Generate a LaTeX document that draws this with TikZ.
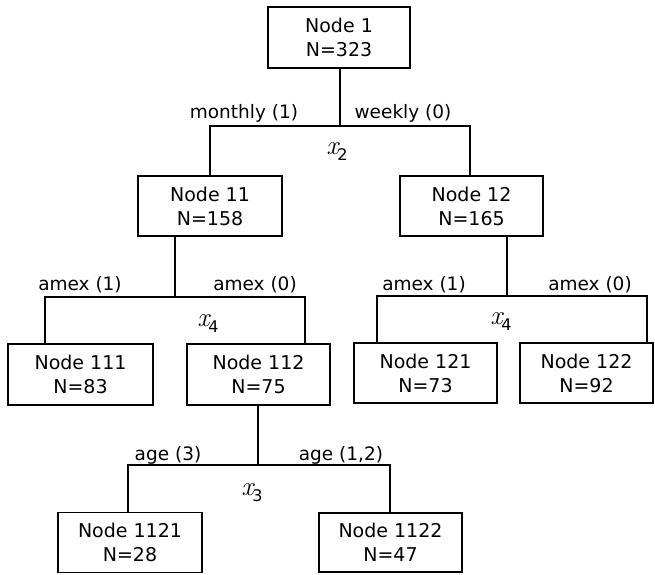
\documentclass[tikz,border=0pt]{standalone}
\usepackage{fontspec}
\newfontfamily\boxfont{DejaVu Sans}
\newcommand\splitvar[1]{{\fontsize{27}{28}\selectfont\itshape x}\kern-1pt\raisebox{-6pt}{\boxfont\fontsize{16}{17}\selectfont #1}}
\begin{document}
\begin{tikzpicture}[x=1pt,y=-1pt,
  treebox/.style={draw=black,line width=1.1pt,inner sep=0pt,align=center,
    font=\boxfont\fontsize{19}{24}\selectfont},
  lbl/.style={font=\boxfont\fontsize{18.5}{20}\selectfont,anchor=base,inner sep=0pt},
  var/.style={inner sep=0pt},
  conn/.style={line width=1.1pt,black}]
\useasboundingbox (0,0) rectangle (655,574);
% nodes
\node[treebox,minimum width=142pt,minimum height=61pt] (n1) at (339,37.5) {Node 1\\N=323};
\node[treebox,minimum width=144pt,minimum height=60pt] (n11) at (210,206) {Node 11\\N=158};
\node[treebox,minimum width=143pt,minimum height=60pt] (n12) at (471.5,206) {Node 12\\N=165};
\node[treebox,minimum width=145pt,minimum height=61pt] (n111) at (80.5,374.5) {Node 111\\N=83};
\node[treebox,minimum width=143pt,minimum height=61pt] (n112) at (258.5,374.5) {Node 112\\N=75};
\node[treebox,minimum width=143pt,minimum height=60pt] (n121) at (425.5,373) {Node 121\\N=73};
\node[treebox,minimum width=133pt,minimum height=60pt] (n122) at (586.5,373) {Node 122\\N=92};
\node[treebox,minimum width=144pt,minimum height=60pt] (n1121) at (130,542.5) {Node 1121\\N=28};
\node[treebox,minimum width=143pt,minimum height=59pt] (n1122) at (390.5,542.5) {Node 1122\\N=47};
% junction coordinates
\coordinate (b1) at (340,126);
\coordinate (l1) at (210,126);
\coordinate (r1) at (470,126);
\coordinate (b2) at (175,297);
\coordinate (l2) at (45,297);
\coordinate (r2) at (305,297);
\coordinate (b3) at (507,296);
\coordinate (l3) at (377,296);
\coordinate (r3) at (647,296);
\coordinate (b4) at (258,465);
\coordinate (l4) at (128,465);
\coordinate (r4) at (390,465);
% connectors
\draw[conn] (b1 |- n1.south) -- (b1);
\draw[conn] (l1 |- n11.north) -- (l1) -- (r1) -- (r1 |- n12.north);
\draw[conn] (b2 |- n11.south) -- (b2);
\draw[conn] (l2 |- n111.north) -- (l2) -- (r2) -- (r2 |- n112.north);
\draw[conn] (b3 |- n12.south) -- (b3);
\draw[conn] (l3 |- n121.north) -- (l3) -- (r3) -- (r3 |- n122.north);
\draw[conn] (b4 |- n112.south) -- (b4);
\draw[conn] (l4 |- n1121.north) -- (l4) -- (r4) -- (r4 |- n1122.north);
% edge labels
\node[lbl] (e1) at (244,118) {monthly (1)};
\node[lbl] (e2) at (403,118) {weekly (0)};
\node[lbl] (e3) at (80,290) {amex (1)};
\node[lbl] (e4) at (255,290) {amex (0)};
\node[lbl] (e5) at (424,290) {amex (1)};
\node[lbl] (e6) at (590,290) {amex (0)};
\node[lbl] (e7) at (168,460) {age (3)};
\node[lbl] (e8) at (341,460) {age (1,2)};
% split variables
\node[var] (v1) at (337,152) {\splitvar{2}};
\node[var] (v2) at (208,324) {\splitvar{4}};
\node[var] (v3) at (501,322) {\splitvar{4}};
\node[var] (v4) at (252,493) {\splitvar{3}};
\end{tikzpicture}
\end{document}
